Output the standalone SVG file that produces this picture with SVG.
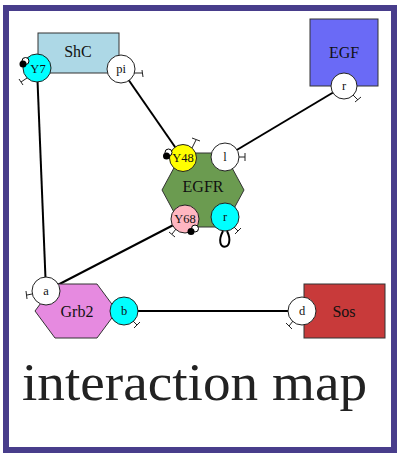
<svg xmlns="http://www.w3.org/2000/svg" width="398" height="453" viewBox="0 0 398 453">
<style>
.node{stroke:#333;stroke-width:1}
.site{stroke:#222;stroke-width:1}
.lbl{font-family:"Liberation Serif","Times New Roman",serif;font-size:16px;fill:#111;text-anchor:middle;dominant-baseline:central}
.slbl{font-family:"Liberation Serif","Times New Roman",serif;font-size:12.5px;fill:#111;text-anchor:middle;dominant-baseline:central}
.edge{stroke:#000;stroke-width:2;fill:none}
.tee{stroke:#222;stroke-width:1;fill:none}
</style>
<rect x="0" y="0" width="398" height="453" fill="#fff"/>
<rect x="6" y="8" width="388" height="442" fill="#fff" stroke="#483D8B" stroke-width="6"/>
<g id="connectors">
<line class="edge" x1="37" y1="68" x2="46" y2="291"/>
<line class="edge" x1="121" y1="69" x2="182" y2="157"/>
<line class="edge" x1="344" y1="86" x2="225" y2="157"/>
<line class="edge" x1="46" y1="291" x2="185" y2="219"/>
<line class="edge" x1="124" y1="311" x2="302" y2="311"/>
<path class="edge" d="M223,231 C 212,252 237,252 227,231"/>
</g>
<g id="ShC">
<rect class="node" x="38" y="33" width="81" height="40" fill="#ADD8E6"/>
<text class="lbl" x="78" y="51">ShC</text>
<g id="ShC_Y7">
<circle class="site" cx="37" cy="68" r="14" fill="#00FFFF"/>
<text class="slbl" x="38" y="69">Y7</text>
<path class="tee" d="M27,78 L21,82 M19,79 L23,85"/>
<circle cx="25.5" cy="61" r="3.5" fill="#fff" stroke="#000" stroke-width="1"/>
<circle cx="23" cy="64" r="3.5" fill="#000"/>
</g>
<g id="ShC_pi">
<circle class="site" cx="121" cy="69" r="14" fill="#fff"/>
<text class="slbl" x="121" y="69">pi</text>
<path class="tee" d="M134,73 L142,73 M142,70 L143,77"/>
</g>
</g>
<g id="EGF">
<rect class="node" x="310" y="19" width="68" height="67" fill="#6A6AF6"/>
<text class="lbl" x="344" y="52">EGF</text>
<g id="EGF_r">
<circle class="site" cx="344" cy="86" r="13" fill="#fff"/>
<text class="slbl" x="344" y="86">r</text>
<path class="tee" d="M353,95 L358,100 M355,102 L361,97"/>
</g>
</g>
<g id="EGFR">
<polygon class="node" points="162,190 182,153 224,153 244,190 224,227 182,227" fill="#6B9B50"/>
<text class="lbl" x="203" y="186">EGFR</text>
<g id="EGFR_Y48">
<circle class="site" cx="183" cy="158" r="13.5" fill="#FFFF00"/>
<text class="slbl" x="183" y="158">Y48</text>
<path class="tee" d="M192,148 L196,140 M192,138 L200,141"/>
<circle cx="168.5" cy="152.5" r="3.5" fill="#fff" stroke="#000" stroke-width="1"/>
<circle cx="166.5" cy="156" r="3.5" fill="#000"/>
</g>
<g id="EGFR_l">
<circle class="site" cx="225" cy="157" r="14" fill="#fff"/>
<text class="slbl" x="225" y="157">l</text>
<path class="tee" d="M239,157 L245,157 M245,153 L245,161"/>
</g>
<g id="EGFR_Y68">
<circle class="site" cx="185" cy="219" r="14" fill="#FFB6C1"/>
<text class="slbl" x="185" y="219">Y68</text>
<path class="tee" d="M176,229 L172,234 M169,232 L175,237"/>
<circle cx="195" cy="228.5" r="3.5" fill="#fff" stroke="#000" stroke-width="1"/>
<circle cx="191" cy="231.5" r="3.5" fill="#000"/>
</g>
<g id="EGFR_r">
<circle class="site" cx="225" cy="217" r="14" fill="#00FFFF"/>
<text class="slbl" x="225" y="217">r</text>
<path class="tee" d="M234,227 L238,231 M235,234 L241,228"/>
</g>
</g>
<g id="Grb2">
<polygon class="node" points="35,311 55,284 97,284 117,311 97,338 55,338" fill="#E68AE0"/>
<text class="lbl" x="77" y="311">Grb2</text>
<g id="Grb2_a">
<circle class="site" cx="46" cy="291" r="14" fill="#fff"/>
<text class="slbl" x="46" y="291">a</text>
<path class="tee" d="M32,294 L27,295 M26,291 L27,299"/>
</g>
<g id="Grb2_b">
<circle class="site" cx="124" cy="311" r="14" fill="#00FFFF"/>
<text class="slbl" x="124" y="311">b</text>
<path class="tee" d="M133,321 L137,325 M134,328 L140,322"/>
</g>
</g>
<g id="Sos">
<rect class="node" x="304" y="284" width="81" height="54" fill="#C83A3A"/>
<text class="lbl" x="344" y="311">Sos</text>
<g id="Sos_d">
<circle class="site" cx="302" cy="311" r="14" fill="#fff"/>
<text class="slbl" x="302" y="311">d</text>
<path class="tee" d="M293,321 L289,326 M286,323 L292,329"/>
</g>
</g>
<text x="22" y="400" font-family="'Liberation Serif','Times New Roman',serif" font-size="52" fill="#222" textLength="345" lengthAdjust="spacingAndGlyphs">interaction map</text>
</svg>
